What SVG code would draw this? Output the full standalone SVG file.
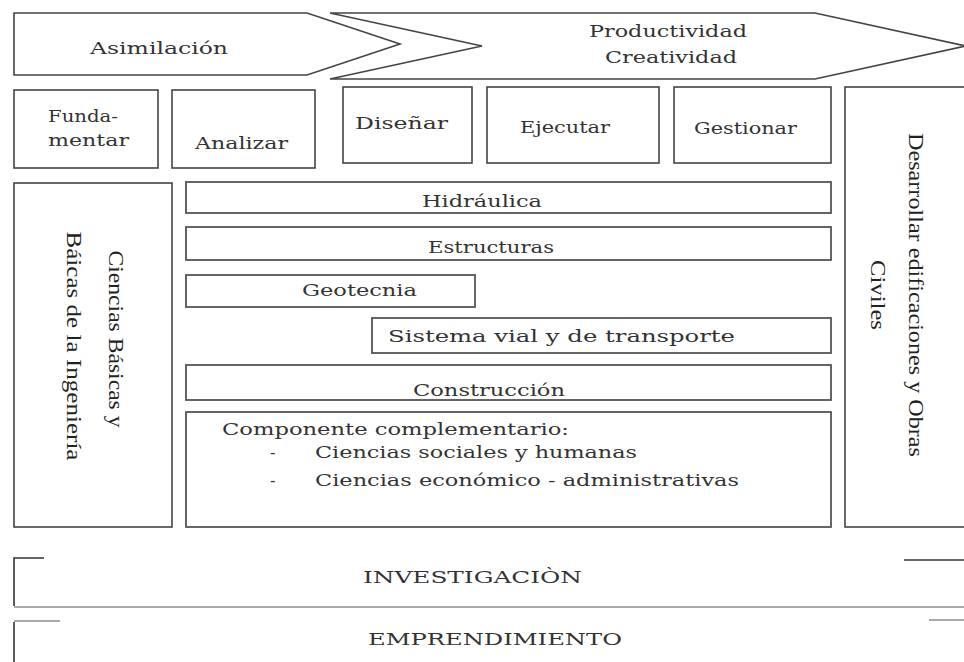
<svg xmlns="http://www.w3.org/2000/svg" width="964" height="662" viewBox="0 0 964 662">
<style>
.bx{fill:#fff;stroke:#444;stroke-width:1.6}
.bar{fill:#fff;stroke:#555;stroke-width:1.8}
.t{font-family:"DejaVu Serif","Liberation Serif",serif;font-size:16px;fill:#333}
.v{font-family:"Liberation Serif","Times New Roman",serif;font-size:21px;fill:#222}
.ln{stroke:#333;stroke-width:1.6;fill:none}
.lg{stroke:#aaa;stroke-width:2;fill:none}
</style>
<rect width="964" height="662" fill="#fff"/>
<g id="productividad">
<path class="bx" d="M330,13 L815,13 L966,46 L815,79 L330,79 L482,46 Z"/>
<text class="t" x="589" y="37" textLength="158" lengthAdjust="spacingAndGlyphs">Productividad</text>
<text class="t" x="605" y="63" textLength="132" lengthAdjust="spacingAndGlyphs">Creatividad</text>
</g>
<g id="asimilacion">
<path class="bx" d="M14,13 L307,13 L400,44 L307,75 L14,75 Z"/>
<text class="t" x="90" y="54" textLength="138" lengthAdjust="spacingAndGlyphs">Asimilación</text>
</g>
<g id="fundamentar">
<rect class="bx" x="14" y="90" width="144" height="78"/>
<text class="t" x="48" y="122" textLength="70" lengthAdjust="spacingAndGlyphs">Funda-</text>
<text class="t" x="48" y="146" textLength="81" lengthAdjust="spacingAndGlyphs">mentar</text>
</g>
<g id="analizar">
<rect class="bx" x="172" y="90" width="143" height="78"/>
<text class="t" x="195" y="149" textLength="93" lengthAdjust="spacingAndGlyphs">Analizar</text>
</g>
<g id="disenar">
<rect class="bx" x="343" y="87" width="129" height="76"/>
<text class="t" x="355" y="129" textLength="93" lengthAdjust="spacingAndGlyphs">Diseñar</text>
</g>
<g id="ejecutar">
<rect class="bx" x="487" y="87" width="172" height="76"/>
<text class="t" x="520" y="133" textLength="90" lengthAdjust="spacingAndGlyphs">Ejecutar</text>
</g>
<g id="gestionar">
<rect class="bx" x="674" y="87" width="157" height="76"/>
<text class="t" x="694" y="134" textLength="103" lengthAdjust="spacingAndGlyphs">Gestionar</text>
</g>
<g id="desarrollar">
<rect class="bx" x="845" y="87" width="130" height="440"/>
<text class="v" transform="translate(909,295) rotate(90)" text-anchor="middle" textLength="324" lengthAdjust="spacingAndGlyphs">Desarrollar edificaciones y Obras</text>
<text class="v" transform="translate(871,295) rotate(90)" text-anchor="middle" textLength="70" lengthAdjust="spacingAndGlyphs">Civiles</text>
</g>
<g id="ciencias-basicas">
<rect class="bx" x="14" y="183" width="158" height="344"/>
<text class="v" transform="translate(109,339) rotate(90)" text-anchor="middle" textLength="177" lengthAdjust="spacingAndGlyphs">Ciencias Básicas y</text>
<text class="v" transform="translate(67,346) rotate(90)" text-anchor="middle" textLength="229" lengthAdjust="spacingAndGlyphs">Báicas de la Ingeniería</text>
</g>
<g id="hidraulica">
<rect class="bar" x="186" y="182" width="645" height="31"/>
<text class="t" x="422" y="207" textLength="120" lengthAdjust="spacingAndGlyphs">Hidráulica</text>
</g>
<g id="estructuras">
<rect class="bar" x="186" y="227" width="645" height="33"/>
<text class="t" x="428" y="253" textLength="126" lengthAdjust="spacingAndGlyphs">Estructuras</text>
</g>
<g id="geotecnia">
<rect class="bar" x="186" y="275" width="289" height="32"/>
<text class="t" x="302" y="296" textLength="115" lengthAdjust="spacingAndGlyphs">Geotecnia</text>
</g>
<g id="sistema-vial">
<rect class="bar" x="372" y="318" width="459" height="35"/>
<text class="t" x="388" y="342" textLength="347" lengthAdjust="spacingAndGlyphs">Sistema vial y de transporte</text>
</g>
<g id="construccion">
<rect class="bar" x="186" y="365" width="645" height="35"/>
<text class="t" x="413" y="396" textLength="152" lengthAdjust="spacingAndGlyphs">Construcción</text>
</g>
<g id="componente">
<rect class="bar" x="186" y="412" width="645" height="115"/>
<text class="t" x="222" y="435" textLength="347" lengthAdjust="spacingAndGlyphs">Componente complementario:</text>
<text class="t" x="270" y="458">-</text>
<text class="t" x="315" y="458" textLength="322" lengthAdjust="spacingAndGlyphs">Ciencias sociales y humanas</text>
<text class="t" x="270" y="486">-</text>
<text class="t" x="315" y="486" textLength="424" lengthAdjust="spacingAndGlyphs">Ciencias económico - administrativas</text>
</g>
<g id="investigacion">
<path class="ln" d="M14,606 L14,558 L44,558"/>
<path class="ln" d="M904,560 L964,560"/>
<path class="lg" d="M14,607 L964,607"/>
<text class="t" x="363" y="583" textLength="219" lengthAdjust="spacingAndGlyphs">INVESTIGACIÒN</text>
</g>
<g id="emprendimiento">
<path class="ln" d="M14,622 L14,662"/>
<path class="lg" d="M14,621 L60,621"/>
<path class="lg" d="M929,620 L964,620"/>
<text class="t" x="368" y="645" textLength="254" lengthAdjust="spacingAndGlyphs">EMPRENDIMIENTO</text>
</g>
<g id="connectors"></g>
</svg>
